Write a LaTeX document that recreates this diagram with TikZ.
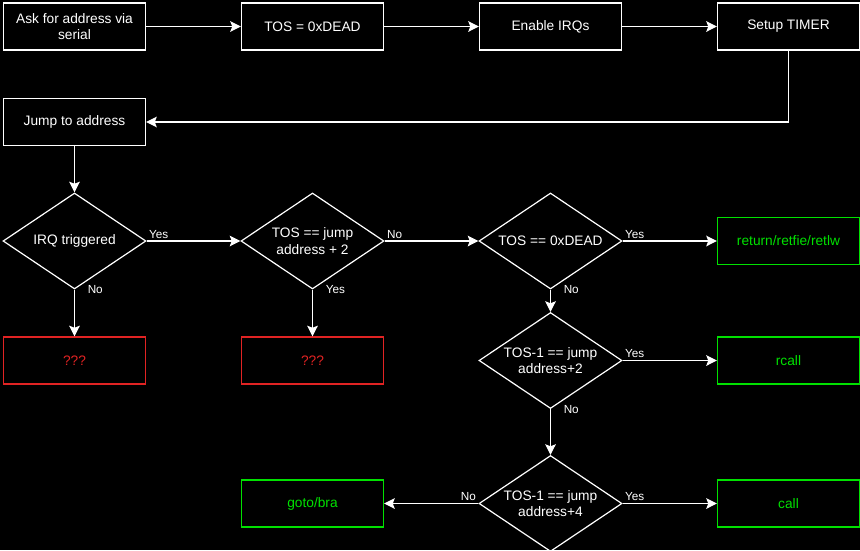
\documentclass[tikz,border=0pt]{standalone}
\usepackage{fontspec}
\setmainfont{Liberation Sans}
\usetikzlibrary{shapes.geometric,arrows.meta}

\definecolor{okgreen}{RGB}{0,225,0}
\definecolor{badred}{RGB}{225,35,35}

\tikzset{
    stepbox/.style={draw=white, line width=0.9pt, minimum width=106.5pt,
        minimum height=35.25pt, inner sep=1pt, text=white, align=center,
        font=\fontsize{10.3}{12.5}\selectfont},
    okbox/.style={stepbox, draw=okgreen, text=okgreen},
    badbox/.style={stepbox, draw=badred, text=badred},
    test/.style={diamond, aspect=1.49, draw=white, line width=0.9pt,
        minimum width=107.25pt, minimum height=72pt, inner sep=0pt,
        text=white, align=center, font=\fontsize{10.3}{12.5}\selectfont},
    flow/.style={draw=white, line width=0.9pt,
        -{Stealth[length=8pt, width=8pt, inset=1.5pt]}},
    lbl/.style={text=white, inner sep=1.5pt, font=\fontsize{8.8}{10}\selectfont},
}

\begin{document}
\begin{tikzpicture}[x=0.75pt, y=-0.75pt]
            \useasboundingbox (0,0) rectangle (860,550);
            \fill[black] (0,0) rectangle (860,550);

            % setup row
            \node[stepbox] (ask)   at (74.5,26.5)  {Ask for address via\\serial};
            \node[stepbox] (tos)   at (312.5,26.5) {TOS = 0xDEAD};
            \node[stepbox] (irq)   at (550.5,26.5) {Enable IRQs};
            \node[stepbox] (timer) at (788.5,26.5) {Setup TIMER};
            \node[stepbox] (jump)  at (74.5,122)   {Jump to address};

            % tests
            \node[test] (trig)    at (74.5,241)  {IRQ triggered};
            \node[test] (tosjmp)  at (312.5,241) {TOS == jump\\address + 2};
            \node[test] (tosdead) at (550.5,241) {TOS == 0xDEAD};
            \node[test] (rcallt)  at (550.5,360.5) {TOS-1 == jump\\address+2};
            \node[test] (callt)   at (550.5,503.5) {TOS-1 == jump\\address+4};

            % results
            \node[okbox]  (ret)   at (788.5,241)   {return/retfie/retlw};
            \node[okbox]  (rcall) at (788.5,360.5) {rcall};
            \node[okbox]  (call)  at (788.5,503.5) {call};
            \node[okbox]  (goto)  at (312.5,503.5) {goto/bra};
            \node[badbox] (unk1)  at (74.5,360.5)  {???};
            \node[badbox] (unk2)  at (312.5,360.5) {???};

            \foreach \a/\b in {ask/tos, tos/irq, irq/timer} {
                \draw[flow] (\a) -- (\b);
            }
            \draw[flow] (timer.south) |- (jump.east);
            \draw[flow] (jump) -- (trig);

            \draw[flow] (trig.east) -- node[lbl, pos=0, anchor=south west] {Yes} (tosjmp.west);
            \draw[flow] (trig.south) -- node[lbl, pos=0, anchor=west, xshift=8pt] {No} (unk1.north);
            \draw[flow] (tosjmp.east) -- node[lbl, pos=0, anchor=south west] {No} (tosdead.west);
            \draw[flow] (tosjmp.south) -- node[lbl, pos=0, anchor=west, xshift=8pt] {Yes} (unk2.north);
            \draw[flow] (tosdead.east) -- node[lbl, pos=0, anchor=south west] {Yes} (ret.west);
            \draw[flow] (tosdead.south) -- node[lbl, pos=0, anchor=west, xshift=8pt] {No} (rcallt.north);
            \draw[flow] (rcallt.east) -- node[lbl, pos=0, anchor=south west] {Yes} (rcall.west);
            \draw[flow] (rcallt.south) -- node[lbl, pos=0, anchor=west, xshift=8pt] {No} (callt.north);
            \draw[flow] (callt.east) -- node[lbl, pos=0, anchor=south west] {Yes} (call.west);
            \draw[flow] (callt.west) -- node[lbl, pos=0, anchor=south east] {No} (goto.east);
        \end{tikzpicture}
\end{document}
